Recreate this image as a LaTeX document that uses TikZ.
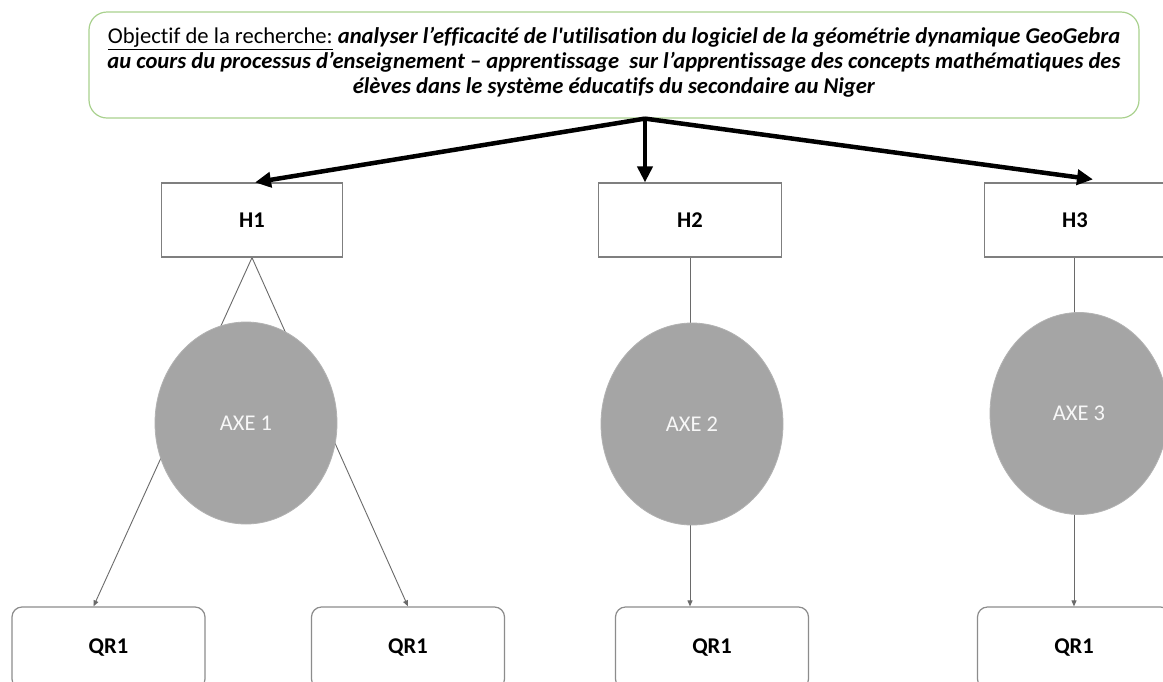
\documentclass[tikz,border=0pt]{standalone}
\usepackage{fontspec}
\setmainfont{Carlito}[Ligatures={TeX,NoCommon}]
\usetikzlibrary{arrows.meta,backgrounds,shapes.geometric}
\definecolor{boxgreen}{HTML}{A9D18E}
\definecolor{boxgray}{HTML}{7F7F7F}
\definecolor{axefill}{HTML}{A5A5A5}
\definecolor{linegray}{HTML}{6A6A6A}
\begin{document}
\begin{tikzpicture}[x=1pt,y=-1pt,
  objbox/.style={draw=boxgreen, line width=1.2pt, rounded corners=18pt, minimum width=1050pt, minimum height=106pt, inner sep=0pt},
  objtext/.style={align=center, font=\fontsize{22.6}{25}\selectfont, inner sep=0pt},
  hbox/.style={draw=boxgray, line width=1.2pt, minimum width=181pt, minimum height=74pt, font=\fontsize{22.5}{26}\selectfont\bfseries},
  axe/.style={ellipse, fill=axefill, draw=axefill!85!white, line width=0.8pt, minimum width=182pt, minimum height=202pt, text=white!94!gray, font=\fontsize{22.5}{26}\selectfont, inner sep=0pt},
  qrbox/.style={draw=boxgray!90, line width=1.2pt, rounded corners=10pt, minimum width=193pt, minimum height=82pt, font=\fontsize{22.5}{26}\selectfont\bfseries},
  bigarrow/.style={line width=4.5pt, -{Triangle[length=16pt,width=15pt]}},
  conn/.style={draw=linegray, line width=0.9pt},
  connarrow/.style={conn, -{Triangle[length=6pt,width=5pt]}}
]
\useasboundingbox (0,0) rectangle (1163,681);

\node[objbox] (obj) at (614,65) {};
\node[objtext] (objtxt) at ([yshift=2.5pt]obj.center) {\underline{Objectif de la recherche:} \textbf{\textit{analyser l’efficacité de l\textquotesingle utilisation du logiciel de la géométrie dynamique GeoGebra}}\\
\textbf{\textit{au cours du processus d’enseignement – apprentissage\ \ sur l’apprentissage des concepts mathématiques des}}\\
\textbf{\textit{élèves dans le système éducatifs du secondaire au Niger}}};

\node[hbox] (h1) at (252,220) {H1};
\node[hbox, minimum width=183pt] (h2) at (690,220) {H2};
\node[hbox] (h3) at (1075,220) {H3};

\node[axe] (axe1) at (246,423) {AXE 1};
\node[axe] (axe2) at (692,424) {AXE 2};
\node[axe, minimum width=178pt] (axe3) at (1079,413.5) {AXE 3};

\node[qrbox] (qr1) at (108.5,648) {QR1};
\node[qrbox] (qr2) at (408,648) {QR1};
\node[qrbox] (qr3) at (712,648) {QR1};
\node[qrbox] (qr4) at (1074,648) {QR1};

\coordinate (src) at ([xshift=31pt]obj.south);
\draw[bigarrow] (src) -- ([xshift=3pt]h1.north);
\draw[bigarrow] (src) -- (src |- h2.north);
\draw[bigarrow] (src) -- ([xshift=18pt,yshift=3pt]h3.north);

\begin{scope}[on background layer]
\fill[white] (0,0) rectangle (1163,681);
\draw[connarrow] (h1.south) -- ([xshift=-15pt]qr1.north);
\draw[connarrow] (h1.south) -- (qr2.north);
\draw[conn] (h2.south) -- (h2.south |- axe2.center);
\draw[connarrow] (h2.south |- axe2.center) -- (h2.south |- qr3.north);
\draw[conn] ([xshift=-1pt]h3.south) -- ([xshift=-1pt]h3.south |- axe3.center);
\draw[connarrow] ([xshift=-1pt]h3.south |- axe3.center) -- ([xshift=-1pt]h3.south |- qr4.north);
\end{scope}
\end{tikzpicture}
\end{document}
